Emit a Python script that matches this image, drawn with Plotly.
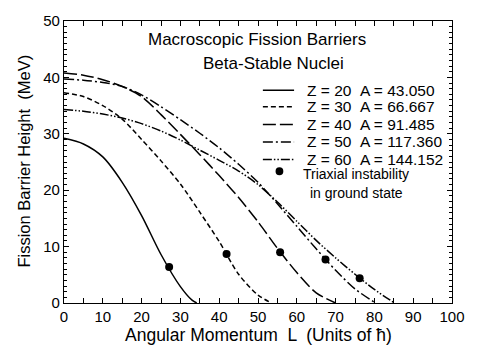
import plotly.graph_objects as go

# Fission barrier height (MeV) versus angular momentum L (units of hbar)
L_z20 = [0, 5, 10, 15, 20, 25, 30, 33, 34.2]
E_z20 = [29.2, 28.2, 25.9, 21.4, 15.5, 8.6, 2.9, 0.5, 0]

L_z30 = [0, 5, 10, 15, 20, 25, 30, 35, 40, 45, 50, 53.5]
E_z30 = [37.3, 36.6, 35.0, 32.6, 29.0, 25.2, 21.1, 16.1, 10.9, 5.1, 1.4, 0]

L_z40 = [0, 5, 10, 15, 20, 25, 30, 35, 40, 45, 50, 55, 60, 65, 70]
E_z40 = [40.8, 40.4, 39.6, 38.4, 36.6, 33.4, 29.9, 26.3, 22.6, 18.7, 14.4, 9.7, 5.4, 1.8, 0]

L_z50 = [0, 5, 10, 15, 20, 25, 30, 35, 40, 45, 50, 55, 60, 65, 70, 75, 80.3]
E_z50 = [39.7, 39.5, 39.1, 38.4, 36.9, 34.8, 32.5, 30.1, 27.5, 24.6, 21.4, 17.6, 13.6, 9.6, 5.8, 2.5, 0]

L_z60 = [0, 5, 10, 15, 20, 25, 30, 35, 40, 45, 50, 55, 60, 65, 70, 75, 80, 85.2]
E_z60 = [34.3, 34.0, 33.5, 32.8, 31.8, 30.5, 28.9, 27.1, 25.3, 23.4, 21.0, 17.9, 14.5, 11.1, 8.0, 5.1, 2.4, 0]

# Onset of triaxial instability in the ground state
tri_L = [27.1, 41.9, 55.7, 67.4, 76.2]
tri_E = [6.4, 8.7, 9.0, 7.7, 4.4]

series_Z = ["20", "30", "40", "50", "60"]
series_A = ["43.050", "66.667", "91.485", "117.360", "144.152"]
series_dash = ["solid", "5px,3px", "13px,4px", "10px,3px,2px,3px", "9px,2px,1.5px,2px,1.5px,2px"]

x_ticks = [0, 10, 20, 30, 40, 50, 60, 70, 80, 90, 100]
y_ticks = [0, 10, 20, 30, 40, 50]

FONT = "Liberation Sans, Arial, Helvetica, sans-serif"

# plot-area geometry (pixels) used to place the text block and key
W, H = 477, 349
ML, MR, MT, MB = 64, 15, 14, 46
PW, PH = W - ML - MR, H - MT - MB


def px(x):
    return (x - ML) / PW


def py(y):
    return (H - MB - y) / PH


def label(text, x, y, size, xanchor="center", angle=0):
    return dict(text=text, x=px(x), y=py(y), xref="paper", yref="paper",
                xanchor=xanchor, yanchor="middle", showarrow=False, textangle=angle,
                font=dict(size=size, color="black", family=FONT))


curves = [(L_z20, E_z20), (L_z30, E_z30), (L_z40, E_z40), (L_z50, E_z50), (L_z60, E_z60)]

fig = go.Figure()
for (L, E), z, dash in zip(curves, series_Z, series_dash):
    fig.add_trace(go.Scatter(
        x=L, y=E, mode="lines", name="Z = " + z,
        line=dict(color="black", width=1.5, dash=dash, shape="spline", smoothing=0.8),
        showlegend=False, hoverinfo="skip"))

fig.add_trace(go.Scatter(
    x=tri_L, y=tri_E, mode="markers", name="Triaxial instability",
    marker=dict(color="black", size=8, symbol="circle"),
    showlegend=False, hoverinfo="skip"))

annotations = []
shapes = []

# title block
annotations.append(label("Macroscopic Fission Barriers", 262, 33, 17))
annotations.append(label("Beta-Stable Nuclei", 279, 58, 17))

# key
row_y = [85, 102, 120, 138, 156]
for yy, z, a, dash in zip(row_y, series_Z, series_A, series_dash):
    shapes.append(dict(type="line", xref="paper", yref="paper",
                       x0=px(268), x1=px(300), y0=py(yy), y1=py(yy),
                       line=dict(color="black", width=1.5, dash=dash)))
    annotations.append(label("Z = " + z, 311, yy, 15.5, xanchor="left"))
    annotations.append(label("A = " + a, 366, yy, 15.5, xanchor="left"))

shapes.append(dict(type="circle", xref="paper", yref="paper",
                   x0=px(281), x1=px(289), y0=py(172), y1=py(164),
                   fillcolor="black", line=dict(color="black", width=0)))
annotations.append(label("Triaxial instability", 364, 171, 14))
annotations.append(label("in ground state", 364, 190, 14))

# axis titles
annotations.append(label("Angular Momentum  L  (Units of \u0127)", 264, 336, 17.5))
annotations.append(label("Fission Barrier Height  (MeV)", 22, 158, 16.5, angle=-90))

axis_common = dict(showline=True, linecolor="black", linewidth=1.3, mirror="ticks",
                   ticks="inside", tickcolor="black", tickwidth=1, showgrid=False,
                   zeroline=False, tickfont=dict(size=15, color="black", family=FONT))

fig.update_layout(
    width=W, height=H,
    margin=dict(l=ML, r=MR, t=MT, b=MB, pad=0),
    paper_bgcolor="white", plot_bgcolor="white",
    xaxis=dict(range=[0, 100], tickvals=x_ticks, ticktext=[str(v) for v in x_ticks],
               ticklen=5, minor=dict(dtick=5, ticklen=5, ticks="inside", tickcolor="black"),
               **axis_common),
    yaxis=dict(range=[0, 50], tickvals=y_ticks, ticktext=[str(v) for v in y_ticks],
               ticklen=5, minor=dict(dtick=1, ticklen=3, ticks="inside", tickcolor="black"),
               **axis_common),
    annotations=annotations,
    shapes=shapes,
    showlegend=False,
)

fig.write_html("out.html")
